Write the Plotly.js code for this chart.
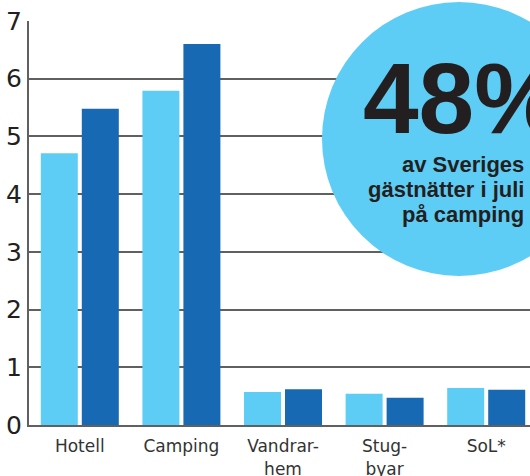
<!DOCTYPE html>
<html>
<head>
<meta charset="utf-8">
<script src="https://cdn.plot.ly/plotly-3.0.1.min.js"></script>
<style>
html,body{margin:0;padding:0;background:#fff;}
#chart{width:530px;height:476px;}
</style>
</head>
<body>
<div id="chart"></div>
<script>
// Data
var categories = ["Hotell", "Camping", "Vandrarhem", "Stugbyar", "SoL*"];
var tickLabels = ["Hotell", "Camping", "Vandrar-<br>hem", "Stug-<br>byar", "SoL*"];
var seriesLight = [4.71, 5.79, 0.57, 0.54, 0.64];
var seriesDark  = [5.48, 6.60, 0.62, 0.47, 0.61];
var yTicks = [0, 1, 2, 3, 4, 5, 6, 7];
var bigNumber = "48%";
var calloutLines = ["av Sveriges", "gästnätter i juli", "på camping"];

var W = 530, H = 476;
var mL = 29, mR = 0, mT = 21, mB = 51;
var pw = W - mL - mR, ph = H - mT - mB;
function px(x){ return (x - mL) / pw; }
function py(y){ return (H - mB - y) / ph; }

var cx = 459, cy = 139, r = 137;

var traces = [
  {type:"bar", x:categories, y:seriesLight, marker:{color:"#5ecdf5"}, hoverinfo:"none"},
  {type:"bar", x:categories, y:seriesDark, marker:{color:"#1769b3"}, hoverinfo:"none"}
];

var annotations = [
  {xref:"paper", yref:"paper", x:px(cx + 4), y:py(98), xanchor:"center", yanchor:"middle",
   text:"<b>"+bigNumber+"</b>", showarrow:false,
   font:{family:"Liberation Sans, Arial, sans-serif", size:100, color:"#231f20"}}
];
var lineY = [164, 189, 214];
for (var i = 0; i < calloutLines.length; i++) {
  annotations.push({xref:"paper", yref:"paper", x:px(526), y:py(lineY[i]), xanchor:"right", yanchor:"middle",
    text:"<b>"+calloutLines[i]+"</b>", showarrow:false,
    font:{family:"Liberation Sans, Arial, sans-serif", size:22, color:"#231f20"}});
}

var layout = {
  width:W, height:H,
  margin:{l:mL, r:mR, t:mT, b:mB, pad:0},
  paper_bgcolor:"#ffffff", plot_bgcolor:"#ffffff",
  showlegend:false,
  barmode:"group", bargap:0.193, bargroupgap:0.0976,
  xaxis:{type:"category", range:[-0.5, 4.431], tickvals:categories, ticktext:tickLabels,
    showgrid:false, zeroline:false, showline:true, linecolor:"#606060", linewidth:2,
    ticks:"", ticklabelstandoff:5,
    tickfont:{family:"DejaVu Sans, sans-serif", size:17, color:"#333333"}, fixedrange:true},
  yaxis:{range:[0, 7], tickvals:yTicks, showgrid:true, gridcolor:"#606060", gridwidth:2,
    zeroline:false, showline:true, linecolor:"#606060", linewidth:2, ticks:"",
    ticklabelstandoff:0,
    tickfont:{family:"DejaVu Sans, sans-serif", size:25, color:"#231f20"}, fixedrange:true},
  shapes:[
    {type:"circle", xref:"paper", yref:"paper", layer:"above",
     x0:px(cx - r), x1:px(cx + r), y0:py(cy + r), y1:py(cy - r),
     fillcolor:"#5ecdf5", line:{width:0}}
  ],
  annotations:annotations
};

Plotly.newPlot("chart", traces, layout, {displayModeBar:false, staticPlot:true});
</script>
</body>
</html>
